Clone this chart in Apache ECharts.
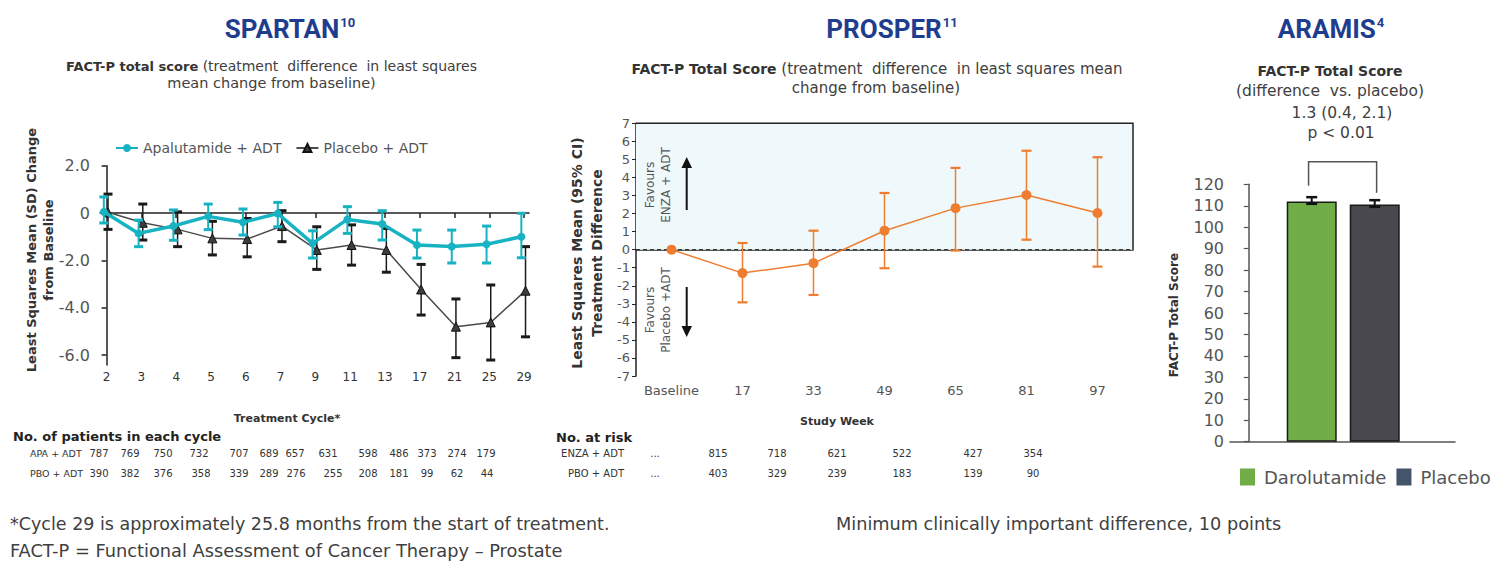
<!DOCTYPE html>
<html><head><meta charset="utf-8">
<script src="https://cdn.jsdelivr.net/npm/echarts@6/dist/echarts.min.js"></script>
<style>html,body{margin:0;padding:0;background:#fff}#c{width:1496px;height:561px}</style>
</head><body><div id="c"></div>
<script>
// ---------- SPARTAN data ----------
const spartanCycles = ['2','3','4','5','6','7','9','11','13','17','21','25','29'];
const apaMean = [0.05,-0.86,-0.55,-0.14,-0.39,-0.02,-1.28,-0.27,-0.46,-1.35,-1.41,-1.32,-1.0];
const apaLow  = [-0.42,-1.42,-1.15,-0.70,-0.93,-0.58,-1.90,-0.86,-1.14,-1.90,-2.11,-2.11,-1.89];
const apaHigh = [0.68,-0.30,0.13,0.38,0.17,0.45,-0.75,0.27,0.10,-0.72,-0.72,-0.55,-0.01];
const pboMean = [0.03,-0.41,-0.69,-1.07,-1.10,-0.55,-1.56,-1.35,-1.56,-3.23,-4.80,-4.62,-3.28];
const pboLow  = [-0.69,-1.14,-1.42,-1.77,-1.85,-1.21,-2.38,-2.20,-2.50,-4.31,-6.11,-6.21,-5.23];
const pboHigh = [0.80,0.38,0.05,-0.35,-0.23,0.10,-0.58,-0.50,-0.65,-2.17,-3.63,-3.04,-1.42];
const spartanYTicks = [-6,-4,-2,0,2];
const apaN = ['787','769','750','732','707','689','657','631','598','486','373','274','179'];
const pboN = ['390','382','376','358','339','289','276','255','208','181','99','62','44'];

// ---------- PROSPER data ----------
const prosperWeeks = ['Baseline','17','33','49','65','81','97'];
const enzaDiff = [0,-1.30,-0.75,1.05,2.30,3.03,2.03];
const enzaLow  = [null,-2.92,-2.51,-1.03,-0.05,0.55,-0.94];
const enzaHigh = [null,0.37,1.05,3.14,4.53,5.48,5.12];
const enzaAtRisk = ['...','815','718','621','522','427','354'];
const pboAtRisk  = ['...','403','329','239','183','139','90'];

// ---------- ARAMIS data ----------
const aramisGroups = ['Darolutamide','Placebo'];
const aramisMean = [112.0,110.6];
const aramisLow  = [110.9,109.5];
const aramisHigh = [114.0,112.6];
const bracketLevels = [119.3,116.1,130.5];

// ---------- layout (not data) ----------
const FONT = '"DejaVu Sans", sans-serif';
const TEAL = '#17b3c3', DARK = '#3d3d3d', ORANGE = '#ee7d2f', BLUE = '#1f3d8f';
const apaDodge = -0.08, pboDodge = 0.04;
const apaNX = [99,130,163,199,239,269,295,328,368,399,427,457,486];
const pboNX = [99,130,163,201,239,269,296,333,368,399,427,457,487];
const riskX = [655,718,777,837,902,973,1033];

function errBar(color, lw, capW, capLw) {
  return function (params, api) {
    const x = api.value(0), lo = api.value(1), hi = api.value(2);
    const a = api.coord([x, hi]), b = api.coord([x, lo]);
    return { type: 'group', children: [
      { type: 'line', shape: { x1: a[0], y1: a[1], x2: b[0], y2: b[1] }, style: { stroke: color, lineWidth: lw } },
      { type: 'line', shape: { x1: a[0]-capW/2, y1: a[1], x2: a[0]+capW/2, y2: a[1] }, style: { stroke: color, lineWidth: capLw } },
      { type: 'line', shape: { x1: b[0]-capW/2, y1: b[1], x2: b[0]+capW/2, y2: b[1] }, style: { stroke: color, lineWidth: capLw } }
    ]};
  };
}

function T(x, y, text, font, extra, rot) {
  const el = { type: 'text', x: x, y: y, z: 100,
    style: Object.assign({ text: text, font: font, fill: '#404040', textAlign: 'left', textVerticalAlign: 'middle' }, extra || {}) };
  if (rot) el.rotation = rot;
  return el;
}
const R90 = Math.PI / 2;
const titleRich = { t: { font: 'bold 26px Roboto', fill: BLUE }, s: { font: 'bold 13px Roboto', fill: BLUE, verticalAlign: 'top', padding: [0,0,10,1] } };

const graphics = [];
// titles
graphics.push(T(290, 29, '{t|SPARTAN}{s|10}', 'bold 26px Roboto', { textAlign: 'center', rich: titleRich }));
graphics.push(T(892, 29, '{t|PROSPER}{s|11}', 'bold 26px Roboto', { textAlign: 'center', rich: titleRich }));
graphics.push(T(1331, 29, '{t|ARAMIS}{s|4}', 'bold 26px Roboto', { textAlign: 'center', rich: titleRich }));
// subtitles
graphics.push(T(271.5, 66, '{b|FACT-P total score} {n|(treatment  difference  in least squares}', '14px ' + FONT, { textAlign: 'center',
  rich: { b: { font: 'bold 13px ' + FONT, fill: '#333' }, n: { font: '14px ' + FONT, fill: '#404040' } } }));
graphics.push(T(271.5, 83, 'mean change from baseline)', '14.5px ' + FONT, { textAlign: 'center' }));
graphics.push(T(877, 69, '{b|FACT-P Total Score} {n|(treatment  difference  in least squares mean}', '15px ' + FONT, { textAlign: 'center',
  rich: { b: { font: 'bold 14px ' + FONT, fill: '#333' }, n: { font: '15px ' + FONT, fill: '#404040' } } }));
graphics.push(T(876, 88, 'change from baseline)', '15px ' + FONT, { textAlign: 'center' }));
graphics.push(T(1330, 71, 'FACT-P Total Score', 'bold 14px ' + FONT, { textAlign: 'center', fill: '#333' }));
graphics.push(T(1330, 91, '(difference  vs. placebo)', '15.5px ' + FONT, { textAlign: 'center' }));
graphics.push(T(1342, 113, '1.3 (0.4, 2.1)', '15.5px ' + FONT, { textAlign: 'center' }));
graphics.push(T(1341, 133, 'p < 0.01', '15.5px ' + FONT, { textAlign: 'center' }));
// axis names
graphics.push(T(40, 250, 'Least Squares Mean (SD) Change\nfrom Baseline', 'bold 13px ' + FONT, { textAlign: 'center', fill: '#333', lineHeight: 17 }, R90));
graphics.push(T(587, 253, 'Least Squares Mean (95% CI)\nTreatment Difference', 'bold 14px ' + FONT, { textAlign: 'center', fill: '#333', lineHeight: 20 }, R90));
graphics.push(T(1174, 315, 'FACT-P Total Score', 'bold 12px ' + FONT, { textAlign: 'center', fill: '#333' }, R90));
graphics.push(T(287, 418, 'Treatment Cycle*', 'bold 11px ' + FONT, { textAlign: 'center', fill: '#333' }));
graphics.push(T(837, 421, 'Study Week', 'bold 11px ' + FONT, { textAlign: 'center', fill: '#333' }));
// Favours annotations
graphics.push(T(658, 185, 'Favours\nENZA + ADT', '12px ' + FONT, { textAlign: 'center', fill: '#555', lineHeight: 16 }, R90));
graphics.push(T(658, 310, 'Favours\nPlacebo +ADT', '12px ' + FONT, { textAlign: 'center', fill: '#555', lineHeight: 16 }, R90));
graphics.push({ type: 'line', z: 100, shape: { x1: 686.7, y1: 210, x2: 686.7, y2: 166 }, style: { stroke: '#111', lineWidth: 2 } });
graphics.push({ type: 'polygon', z: 100, shape: { points: [[681.5,168],[692,168],[686.7,157]] }, style: { fill: '#111' } });
graphics.push({ type: 'line', z: 100, shape: { x1: 686.7, y1: 287, x2: 686.7, y2: 328 }, style: { stroke: '#111', lineWidth: 2 } });
graphics.push({ type: 'polygon', z: 100, shape: { points: [[681.5,326],[692,326],[686.7,337]] }, style: { fill: '#111' } });
// tables
graphics.push(T(13, 436, 'No. of patients in each cycle', 'bold 13px ' + FONT, { fill: '#222' }));
graphics.push(T(30, 453, 'APA + ADT', '9.5px ' + FONT, { fill: '#333' }));
graphics.push(T(30, 473, 'PBO + ADT', '9.5px ' + FONT, { fill: '#333' }));
apaN.forEach((v, i) => graphics.push(T(apaNX[i], 453, v, '10px ' + FONT, { textAlign: 'center', fill: '#333' })));
pboN.forEach((v, i) => graphics.push(T(pboNX[i], 473, v, '10px ' + FONT, { textAlign: 'center', fill: '#333' })));
graphics.push(T(556, 437, 'No. at risk', 'bold 13px ' + FONT, { fill: '#222' }));
graphics.push(T(624, 453, 'ENZA + ADT', '10px ' + FONT, { textAlign: 'right', fill: '#333' }));
graphics.push(T(624, 473, 'PBO + ADT', '10px ' + FONT, { textAlign: 'right', fill: '#333' }));
enzaAtRisk.forEach((v, i) => graphics.push(T(riskX[i], 453, v, '10px ' + FONT, { textAlign: 'center', fill: '#333' })));
pboAtRisk.forEach((v, i) => graphics.push(T(riskX[i], 473, v, '10px ' + FONT, { textAlign: 'center', fill: '#333' })));
// footnotes
graphics.push(T(10, 524, '*Cycle 29 is approximately 25.8 months from the start of treatment.', '17.5px ' + FONT, { fill: '#404040' }));
graphics.push(T(10, 550, 'FACT-P = Functional Assessment of Cancer Therapy \u2013 Prostate', '17.8px ' + FONT, { fill: '#404040' }));
graphics.push(T(836, 524, 'Minimum clinically important difference, 10 points', '17.7px ' + FONT, { fill: '#404040' }));

const idx = spartanCycles.map((_, i) => i);

const option = {
  animation: false,
  backgroundColor: '#fff',
  textStyle: { fontFamily: FONT },
  grid: [
    { left: 100, top: 165.7, width: 429, height: 199.3 },
    { left: 636, top: 123.3, width: 497, height: 252.7 },
    { left: 1230, top: 184.3, width: 225, height: 257.4 }
  ],
  legend: [
    { data: ['Apalutamide + ADT', 'Placebo + ADT'], left: 110, top: 136, itemWidth: 22, itemHeight: 10, itemGap: 14,
      textStyle: { fontSize: 14, color: '#555', fontFamily: FONT } },
    { data: [
        { name: 'Darolutamide', itemStyle: { color: '#70ad47', borderWidth: 0 } },
        { name: 'Placebo', itemStyle: { color: '#44546a', borderWidth: 0 } } ],
      left: 1235, top: 463, icon: 'rect', itemWidth: 15, itemHeight: 17, itemGap: 10,
      textStyle: { fontSize: 18, color: '#555', fontFamily: FONT, padding: [0, 0, 0, 4] } }
  ],
  xAxis: [
    { type: 'value', gridIndex: 0, min: -0.19, max: 12.14,
      axisLine: { lineStyle: { color: '#222', width: 1.5 } },
      axisTick: { customValues: idx, length: 5, lineStyle: { color: '#222', width: 1.5 } },
      axisLabel: { customValues: idx, formatter: v => spartanCycles[Math.round(v)], fontSize: 12, color: '#333', margin: 6 },
      splitLine: { show: false } },
    { type: 'category', gridIndex: 1, data: prosperWeeks, boundaryGap: true,
      axisLine: { lineStyle: { color: '#222', width: 1.5 } },
      axisTick: { length: 5, interval: 0, lineStyle: { color: '#222', width: 1.5 } },
      axisLabel: { interval: 0, fontSize: 13, color: '#555', margin: 8 } },
    { type: 'value', gridIndex: 2, min: -0.297, max: 3.274,
      axisLine: { lineStyle: { color: '#555', width: 1.5 } },
      axisTick: { show: false }, axisLabel: { show: false }, splitLine: { show: false } }
  ],
  yAxis: [
    { type: 'value', gridIndex: 0, min: -6.42, max: 2,
      axisLine: { show: true, lineStyle: { color: '#222', width: 1.5 } },
      axisTick: { show: true, customValues: spartanYTicks, length: 5, lineStyle: { color: '#222', width: 1.5 } },
      axisLabel: { customValues: spartanYTicks, formatter: v => v === 0 ? '0' : v.toFixed(1), fontSize: 16, color: '#555', margin: 10 },
      splitLine: { show: false } },
    { type: 'value', gridIndex: 1, min: -7, max: 7, interval: 1,
      axisLine: { show: true, lineStyle: { color: '#222', width: 1.5 } },
      axisTick: { show: true, length: 4, lineStyle: { color: '#222' } },
      axisLabel: { fontSize: 13, color: '#555', margin: 6 },
      splitLine: { show: false } },
    { type: 'value', gridIndex: 2, min: 0, max: 120, interval: 10,
      axisLine: { show: true, lineStyle: { color: '#555', width: 1.5 } },
      axisTick: { show: true, length: 5, lineStyle: { color: '#555', width: 1.2 } },
      axisLabel: { fontSize: 16, color: '#555', margin: 6 },
      splitLine: { show: false } }
  ],
  series: [
    // SPARTAN
    { type: 'custom', name: 'pboErr', xAxisIndex: 0, yAxisIndex: 0, z: 2,
      renderItem: errBar('#1a1a1a', 1.5, 9, 3),
      data: idx.map(i => [i + pboDodge, pboLow[i], pboHigh[i]]) },
    { type: 'line', name: 'Placebo + ADT', xAxisIndex: 0, yAxisIndex: 0, z: 3,
      data: idx.map(i => [i + pboDodge, pboMean[i]]), symbol: 'triangle', symbolSize: 9,
      lineStyle: { color: '#4a4a4a', width: 1.5 }, itemStyle: { color: DARK, borderColor: '#111', borderWidth: 1 } },
    { type: 'custom', name: 'apaErr', xAxisIndex: 0, yAxisIndex: 0, z: 4,
      renderItem: errBar(TEAL, 2, 9, 3),
      data: idx.map(i => [i + apaDodge, apaLow[i], apaHigh[i]]) },
    { type: 'line', name: 'Apalutamide + ADT', xAxisIndex: 0, yAxisIndex: 0, z: 5,
      data: idx.map(i => [i + apaDodge, apaMean[i]]), symbol: 'circle', symbolSize: 8,
      lineStyle: { color: TEAL, width: 3.5 }, itemStyle: { color: TEAL } },
    // PROSPER
    { type: 'custom', name: 'favourBox', xAxisIndex: 1, yAxisIndex: 1, z: 1, silent: true,
      renderItem: function (params, api) {
        const band = api.size([1, 0])[0];
        const left = api.coord([0, 0])[0] - band / 2;
        const right = api.coord([prosperWeeks.length - 1, 0])[0] + band / 2;
        const top = api.coord([0, 7])[1];
        const zero = api.coord([0, 0])[1];
        return { type: 'group', children: [
          { type: 'rect', shape: { x: left, y: top, width: right - left, height: zero - top }, style: { fill: '#eff8fb' } },
          { type: 'polyline', shape: { points: [[left, top], [right, top], [right, zero]] }, style: { stroke: '#222', lineWidth: 1.5, fill: null } },
          { type: 'line', shape: { x1: left, y1: zero, x2: right, y2: zero }, style: { stroke: '#222', lineWidth: 1, lineDash: [4, 3] } }
        ]};
      },
      data: [[0, 7]] },
    { type: 'custom', name: 'enzaErr', xAxisIndex: 1, yAxisIndex: 1, z: 3,
      renderItem: errBar(ORANGE, 1.5, 10, 2.2),
      data: prosperWeeks.map((_, i) => [i, enzaLow[i], enzaHigh[i]]).filter(d => d[1] !== null) },
    { type: 'line', name: 'ENZA diff', xAxisIndex: 1, yAxisIndex: 1, z: 4,
      data: enzaDiff, symbol: 'circle', symbolSize: 10,
      lineStyle: { color: ORANGE, width: 1.5 }, itemStyle: { color: ORANGE } },
    // ARAMIS
    { type: 'bar', name: 'Darolutamide', xAxisIndex: 2, yAxisIndex: 2, barWidth: 50, barGap: '-100%',
      data: [[1, aramisMean[0]]], itemStyle: { color: '#70ad47', borderColor: '#1a1a1a', borderWidth: 1.5 } },
    { type: 'bar', name: 'Placebo', xAxisIndex: 2, yAxisIndex: 2, barWidth: 50, barGap: '-100%',
      data: [[2, aramisMean[1]]], itemStyle: { color: '#48484e', borderColor: '#1a1a1a', borderWidth: 1.5 } },
    { type: 'custom', name: 'aramisErr', xAxisIndex: 2, yAxisIndex: 2, z: 5,
      renderItem: errBar('#111', 2, 11, 2.5),
      data: aramisGroups.map((_, i) => [i + 1, aramisLow[i], aramisHigh[i]]) },
    { type: 'custom', name: 'bracket', xAxisIndex: 2, yAxisIndex: 2, z: 5, clip: false,
      renderItem: function (params, api) {
        const a = api.coord([0.95, bracketLevels[0]]);
        const t1 = api.coord([0.95, bracketLevels[2]]);
        const t2 = api.coord([2.03, bracketLevels[2]]);
        const b = api.coord([2.03, bracketLevels[1]]);
        return { type: 'polyline', shape: { points: [a, t1, t2, b] }, style: { stroke: '#555', lineWidth: 1.5, fill: null } };
      },
      data: [[1, bracketLevels[0]]] }
  ],
  graphic: { elements: graphics }
};

const chart = echarts.init(document.getElementById('c'), null, { renderer: 'svg', width: 1496, height: 561 });
chart.setOption(option);
</script>
</body></html>
